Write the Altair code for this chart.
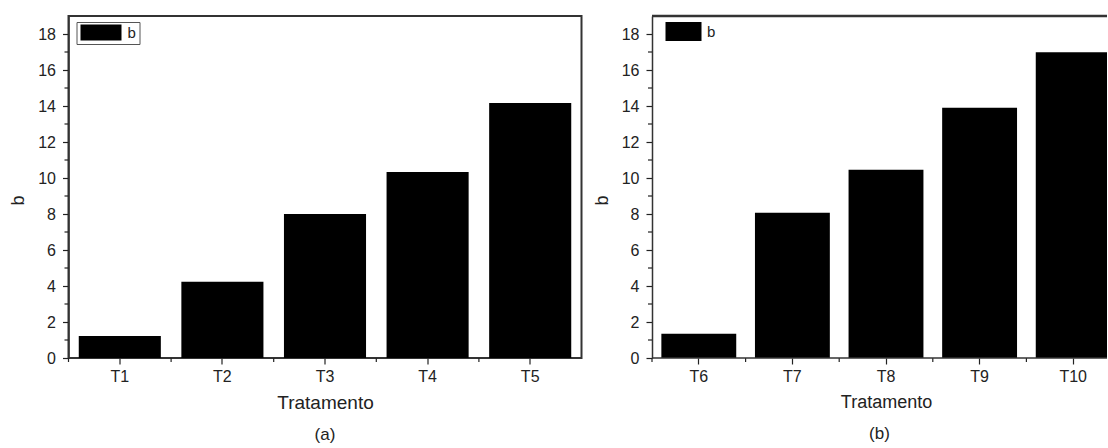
import altair as alt
import pandas as pd

# Treatments and measured b values for the two panels
trat_a = ["T1", "T2", "T3", "T4", "T5"]
b_a = [1.22, 4.24, 8.00, 10.33, 14.17]

trat_b = ["T6", "T7", "T8", "T9", "T10"]
b_b = [1.35, 8.07, 10.46, 13.90, 16.98]

serie = "b"
y_major = [0, 2, 4, 6, 8, 10, 12, 14, 16, 18]
y_minor = [1, 3, 5, 7, 9, 11, 13, 15, 17]
y_top = 19

FONT = "Liberation Sans"
INK = "#222222"
FRAME = "#333333"
HEIGHT = 342


def panel(trat, vals, width, band_span, caption, title_size,
          leg_x, leg_y, swatch_path, swatch_size, sym_offset, leg_pad, leg_stroke,
          label_offset, framed):
    df = pd.DataFrame({"Tratamento": trat, "b": vals, "serie": [serie] * len(trat)})
    xscale = alt.Scale(paddingInner=0, paddingOuter=0, range=[0, band_span])
    yscale = alt.Scale(domain=[0, y_top], nice=False, zero=True)
    xaxis = alt.Axis(title="Tratamento", labelAngle=0, tickSize=6,
                     labelPadding=4, titlePadding=9, domain=False,
                     titleFontSize=title_size)
    yaxis = alt.Axis(title="b", values=y_major, tickSize=6, grid=False,
                     labelPadding=7, titleX=-45, titleY=184, titleFontSize=18,
                     titleBaseline="alphabetic", titleAngle=270)

    bars = alt.Chart(df).mark_bar(width=alt.RelativeBandSize(0.8), color="black",
                                  clip=True).encode(
        x=alt.X("Tratamento:N", sort=trat, scale=xscale, axis=xaxis),
        y=alt.Y("b:Q", scale=yscale, axis=yaxis),
        color=alt.Color("serie:N", scale=alt.Scale(range=["black"]),
                        legend=alt.Legend(title=None, orient="none",
                                          legendX=leg_x, legendY=leg_y,
                                          symbolType=swatch_path, symbolSize=swatch_size,
                                          symbolOffset=sym_offset,
                                          symbolStrokeWidth=0, padding=leg_pad,
                                          strokeColor=leg_stroke,
                                          labelFont=FONT, labelFontSize=15,
                                          labelColor=INK, labelOffset=label_offset)),
    )

    # minor ticks on the value axis (odd values)
    minor_y = alt.Chart(pd.DataFrame({"b": y_minor})).mark_rule(
        color=INK, strokeWidth=1.2).encode(
        y=alt.Y("b:Q", scale=yscale, axis=yaxis),
        x=alt.value(-4), x2=alt.value(0),
    )

    # minor ticks on the category axis, at the band boundaries
    minor_x = alt.Chart(pd.DataFrame({"Tratamento": trat})).mark_rule(
        color=INK, strokeWidth=1.2).encode(
        x=alt.X("Tratamento:N", sort=trat, scale=xscale, axis=xaxis, bandPosition=0),
        y=alt.value(HEIGHT), y2=alt.value(HEIGHT + 4),
    )

    layers = [bars, minor_y, minor_x]
    if not framed:
        # open frame: bottom and top edges only, running off to the right
        edges = alt.Chart(pd.DataFrame({"b": [0, y_top], "w": [1.5, 2.5]})).mark_rule(
            color=FRAME).encode(
            y=alt.Y("b:Q", scale=yscale, axis=yaxis),
            x=alt.value(0), x2=alt.value(width),
            strokeWidth=alt.StrokeWidth("w:Q", scale=None, legend=None),
        )
        layers.append(edges)

    view = alt.ViewBackground(stroke=FRAME, strokeWidth=2) if framed else \
        alt.ViewBackground(stroke="transparent", strokeWidth=0)

    return alt.layer(*layers).properties(
        width=width, height=HEIGHT, view=view,
        title=alt.TitleParams(caption, orient="bottom", frame="group", anchor="middle",
                              font=FONT, fontSize=17, fontWeight="normal",
                              color=INK, offset=14.5),
    )


left = panel(trat_a, b_a, 513, 513, "(a)", 19,
             8, 6, "M-2.733,-1.067H2.733V1.067H-2.733Z", 15 * 15, 14, 3, "#555555",
             19, True)
# the second panel runs past the right edge of the figure
right = panel(trat_b, b_b, 455, 468, "(b)", 18,
              13.5, 6, "M-1.895,-1H1.895V1H-1.895Z", 19 * 19, 8.5, 0, "transparent",
              14, False)

chart = alt.hconcat(left, right, spacing=10.5).resolve_scale(
    color="independent", x="independent"
).resolve_legend(color="independent").properties(
    padding={"left": 8.5, "top": 14, "right": -13.5, "bottom": 0},
    background="white",
).configure_axis(
    domainColor=FRAME, domainWidth=1.5,
    tickColor=INK, tickWidth=1.2,
    labelFont=FONT, labelFontSize=16, labelColor=INK,
    titleFont=FONT, titleFontWeight="normal", titleColor=INK,
)

chart.save("out.html", embed_options={"renderer": "svg", "actions": False})
